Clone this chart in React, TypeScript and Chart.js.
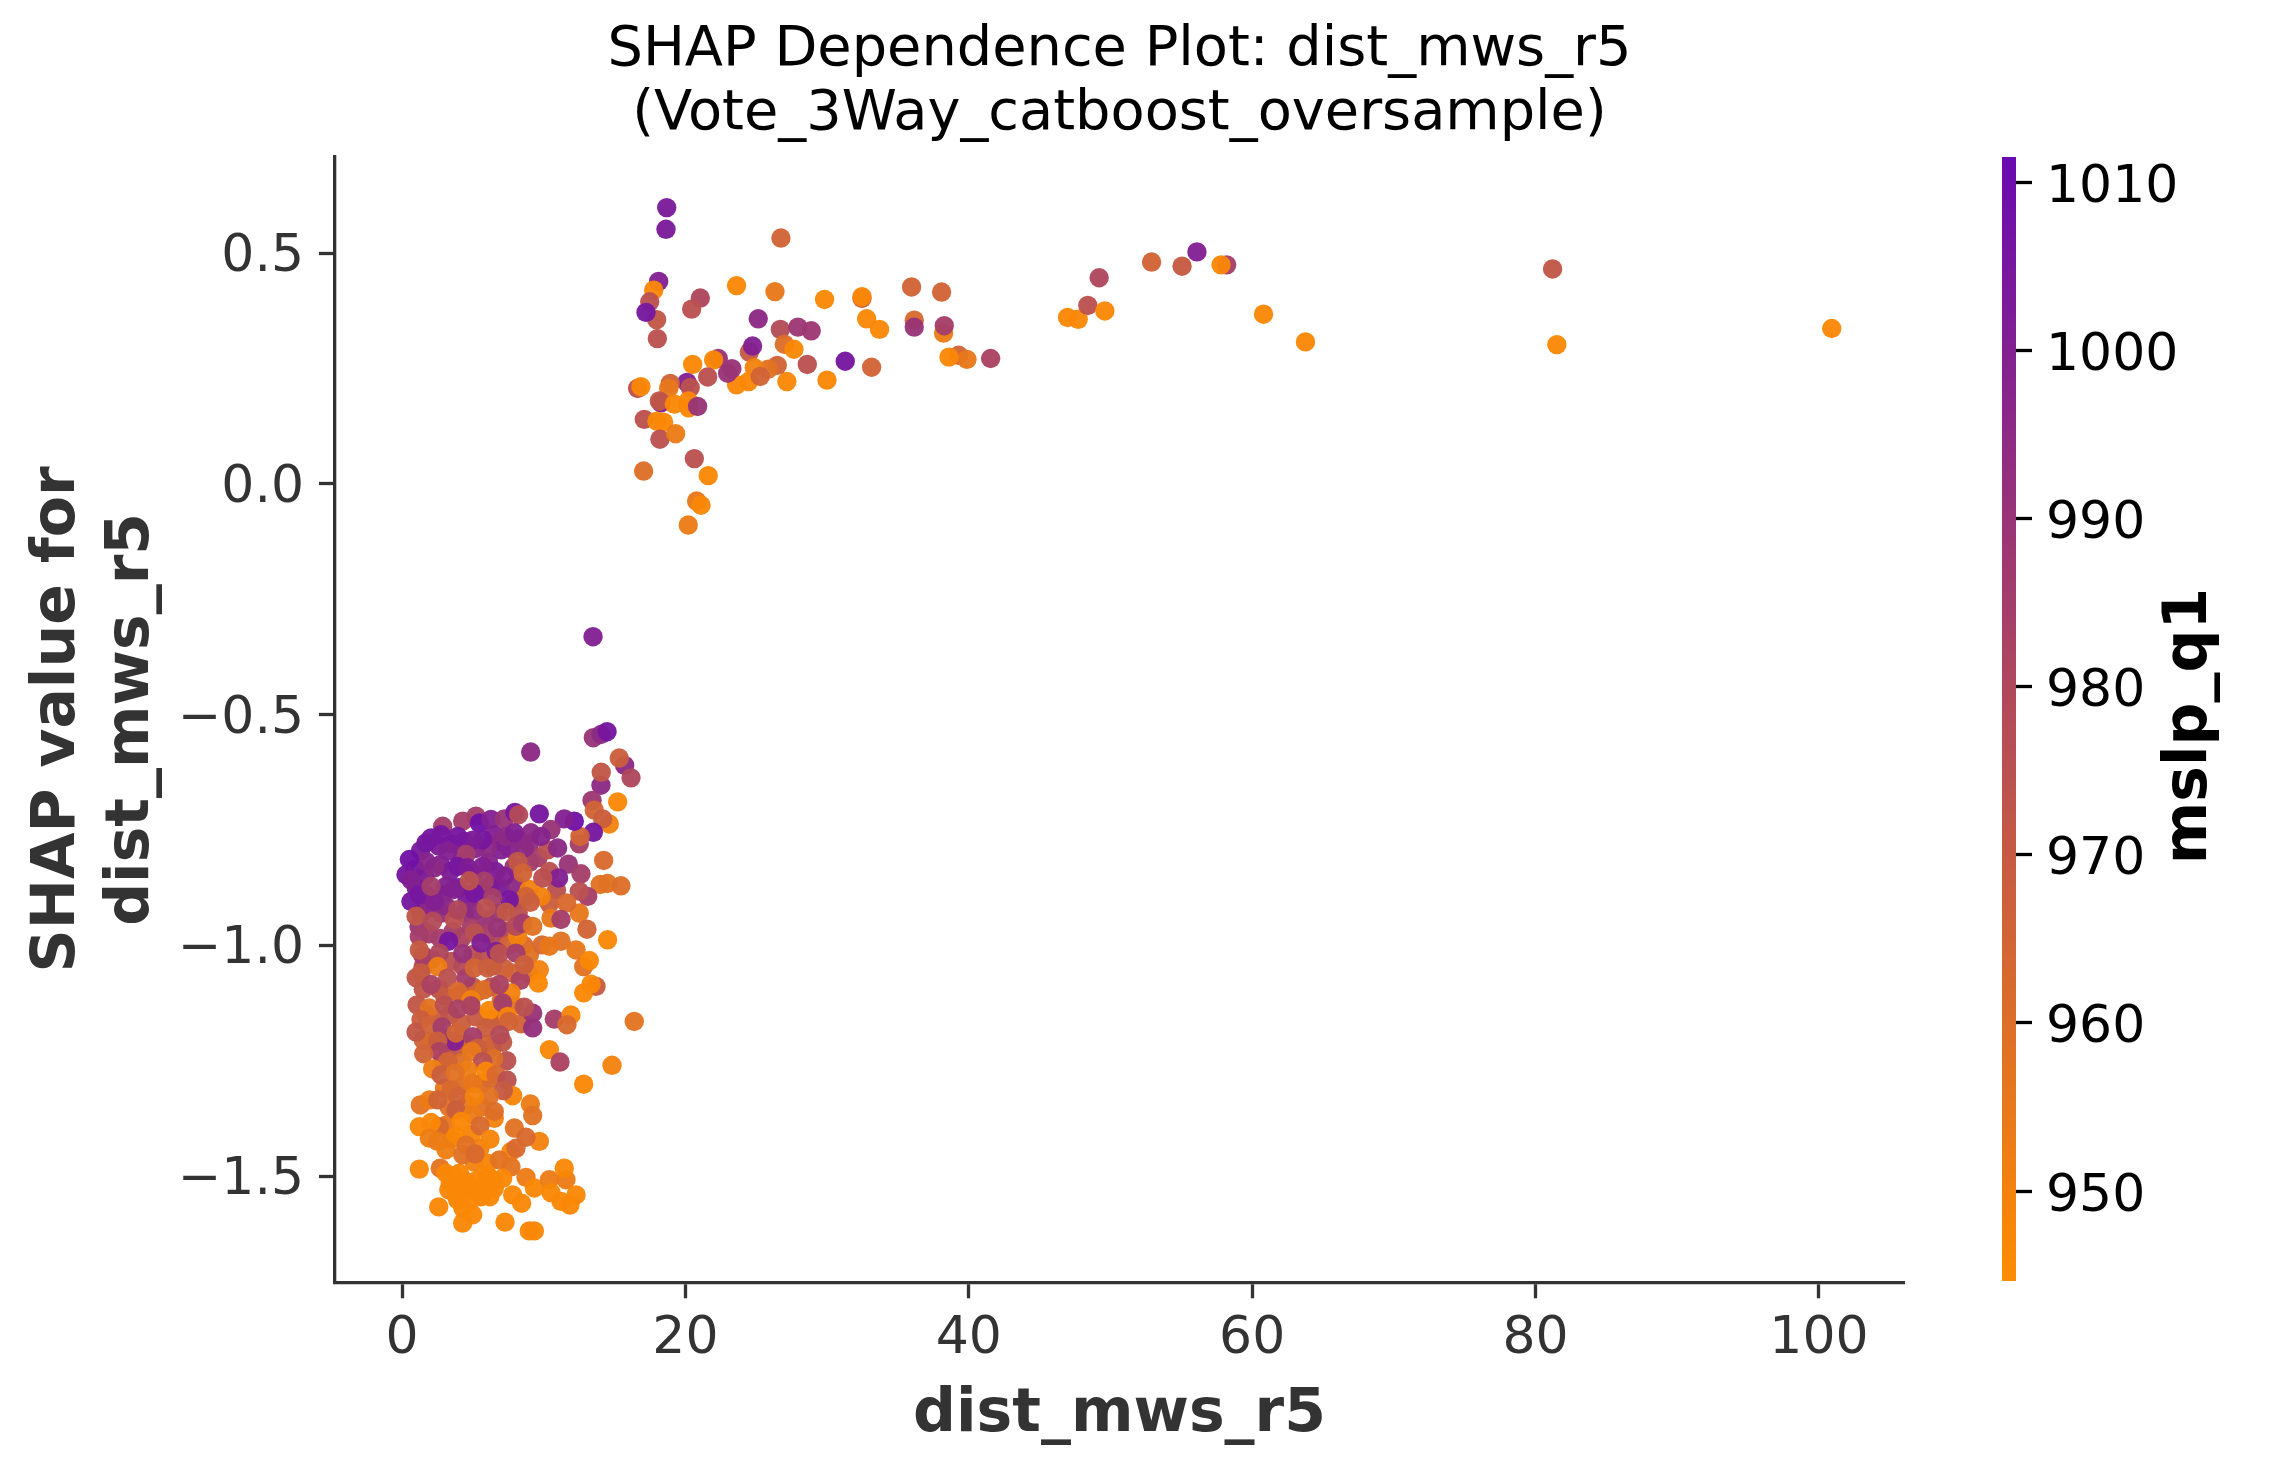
import React, { useEffect, useRef } from "react";
import { Chart, registerables } from "chart.js";

Chart.register(...registerables);

// Each row: [dist_mws_r5, SHAP value, mslp_q1].
const denseBackground: number[][] = [
  [1.3,-0.795,1004],[2.6,-0.785,1002],[3.5,-0.78,1003],[4.4,-0.775,1000],[5.2,-0.79,998],[6.5,-0.76,1000],[7.0,-0.775,996],[7.6,-0.79,1000],[8.2,-0.77,996],[9.0,-0.78,992],
  [0.9,-0.835,1005],[1.6,-0.85,1003],[2.7,-0.825,1000],[3.4,-0.84,1002],[4.2,-0.815,998],[5.0,-0.845,1003],[6.1,-0.82,998],[6.6,-0.84,1002],[7.9,-0.83,990],[9.0,-0.82,985],[9.6,-0.81,985],
  [1.0,-0.875,1003],[1.7,-0.89,1002],[2.9,-0.89,1000],[4.0,-0.875,1004],[4.6,-0.9,1003],[5.5,-0.88,1003],[6.2,-0.87,996],[6.9,-0.875,1003],[8.0,-0.87,995],[10.4,-0.84,975],[10.9,-0.88,975],[10.4,-0.91,968],
  [1.3,-0.93,998],[1.9,-0.92,996],[2.8,-0.93,992],[3.1,-0.915,995],[4.4,-0.93,990],[5.1,-0.925,995],[5.9,-0.945,990],[6.8,-0.93,988],[7.9,-0.905,985],[8.2,-0.93,975],
  [1.2,-0.96,990],[1.9,-0.975,985],[2.7,-0.985,985],[3.6,-0.97,985],[4.2,-0.985,982],[6.0,-0.975,985],[6.7,-0.99,980],[7.4,-0.97,978],[7.5,-1.0,965],[8.6,-1.0,962],[9.0,-1.02,958],
  [1.5,-1.045,978],[2.1,-1.03,975],[3.5,-1.035,975],[4.3,-1.045,978],[5.0,-1.02,975],[5.7,-1.03,975],[6.4,-1.045,972],[7.2,-1.05,968],[8.9,-1.06,960],[1.0,-1.07,972],
  [1.5,-1.095,972],[2.6,-1.095,975],[3.0,-1.11,970],[4.2,-1.105,970],[5.0,-1.09,970],[5.4,-1.1,965],[6.3,-1.09,975],[7.0,-1.12,960],[7.8,-1.06,965],[7.9,-1.13,958],[8.4,-1.17,965],
  [1.7,-1.15,965],[2.6,-1.16,970],[3.4,-1.15,972],[4.2,-1.17,968],[5.2,-1.155,970],[6.2,-1.16,965],[6.9,-1.16,968],[2.9,-1.2,978],
  [1.5,-1.205,965],[2.1,-1.21,962],[3.2,-1.225,968],[3.9,-1.22,972],[4.6,-1.215,965],[5.9,-1.215,965],[6.4,-1.22,965],[7.1,-1.21,972],[2.9,-1.25,960],[4.2,-1.255,960],
  [3.0,-1.31,955],[4.3,-1.305,960],[5.6,-1.3,960],[6.2,-1.29,962],[3.3,-1.35,958],[4.6,-1.345,955],[5.6,-1.35,958],[3.1,-1.39,955],[3.5,-1.42,952],[4.9,-1.41,948],[5.5,-1.44,950],
  [3.4,-1.515,947],[4.0,-1.53,947],[4.6,-1.53,947],[5.2,-1.53,947],[5.9,-1.52,947],[6.5,-1.51,947],[5.1,-1.47,950],[3.3,-1.53,947],[6.2,-1.545,947],[4.3,-1.57,947],[3.7,-1.5,947],
];

const upperBranch: number[][] = [
  [18.68,0.599,1003],[18.63,0.552,1003],[26.74,0.533,965],[18.11,0.439,1000],[17.76,0.42,947],[17.48,0.395,975],[17.97,0.356,972],[18.02,0.315,975],[17.22,0.372,1005],
  [21.05,0.403,980],[20.44,0.379,975],[23.61,0.43,947],[26.32,0.417,955],[29.82,0.4,947],[32.46,0.402,965],[32.46,0.406,947],[35.96,0.427,965],[38.08,0.416,965],
  [32.79,0.358,947],[33.7,0.335,947],[36.15,0.355,962],[36.15,0.34,990],[38.22,0.327,953],[38.27,0.343,985],[25.14,0.358,995],[26.7,0.335,978],[27.94,0.34,988],[28.88,0.332,988],
  [26.98,0.303,960],[27.66,0.292,947],[24.51,0.286,970],[24.74,0.299,1000],[31.28,0.266,1005],[33.14,0.253,965],[28.6,0.259,975],[39.28,0.279,965],[39.87,0.27,955],[38.6,0.275,947],[41.54,0.272,982],
  [46.97,0.361,947],[47.72,0.357,947],[29.99,0.225,947],[27.16,0.222,947],[26.48,0.257,965],[25.85,0.249,958],[24.86,0.252,950],[24.46,0.222,947],[23.61,0.215,947],[25.28,0.233,965],
  [22.98,0.24,990],[23.28,0.25,990],[22.32,0.272,990],[21.99,0.269,947],[20.51,0.259,947],[21.57,0.232,975],[20.11,0.22,1000],[20.34,0.209,975],[18.93,0.218,965],[18.82,0.207,955],
  [16.63,0.207,975],[16.86,0.211,947],[18.27,0.176,1000],[18.16,0.18,972],[19.22,0.173,947],[20.2,0.18,947],[20.23,0.165,947],[20.86,0.168,990],[17.1,0.14,975],[17.99,0.136,947],[18.46,0.134,947],
  [18.2,0.097,975],[19.31,0.109,953],[20.63,0.055,975],[17.05,0.028,960],[21.61,0.018,947],[20.79,-0.037,955],[21.1,-0.046,947],[20.2,-0.089,953],
];

const farRightPoints: number[][] = [
  [52.9,0.481,965],[55.05,0.472,970],[56.1,0.503,1000],[58.2,0.475,985],[57.8,0.475,947],[48.4,0.387,975],[49.2,0.447,980],[49.6,0.375,947],
  [60.8,0.368,947],[63.76,0.308,947],[81.2,0.466,972],[81.5,0.302,947],[100.9,0.337,947],
];

const risingEdge: number[][] = [
  [13.48,-0.331,1000],[9.08,-0.581,995],[13.5,-0.55,990],[14.04,-0.543,995],[14.47,-0.537,1005],[15.71,-0.61,995],[15.33,-0.594,968],[16.16,-0.637,980],[14.04,-0.653,995],[14.06,-0.625,972],
  [15.22,-0.689,947],[13.41,-0.686,988],[14.63,-0.737,950],[13.57,-0.707,965],[14.16,-0.726,968],[13.5,-0.755,1005],[12.51,-0.78,985],[12.56,-0.764,965],[14.23,-0.816,962],[11.74,-0.824,990],
  [12.63,-0.845,985],[11.05,-0.854,1000],[13.99,-0.868,958],[14.51,-0.866,958],[15.45,-0.871,960],[13.1,-0.894,985],[12.51,-0.883,975],[12.51,-0.93,955],[10.51,-0.941,955],[11.62,-0.908,962],
  [11.22,-0.944,985],[13.05,-0.965,965],[14.51,-0.988,947],[11.22,-0.991,958],[9.88,-0.999,962],[10.4,-1.002,955],[12.28,-1.01,955],[12.82,-1.046,958],[13.22,-1.033,947],[13.69,-1.089,970],
  [13.34,-1.084,947],[12.82,-1.103,947],[9.69,-1.053,950],[9.62,-1.082,947],[8.35,-1.076,982],[7.69,-1.103,950],
];

const purpleMass: number[][] = [
  [8.16,-0.981,950],[8.98,-0.879,950],[9.81,-0.894,950],[2.87,-0.742,985],[4.28,-0.731,985],[5.22,-0.72,985],[5.46,-0.735,1008],[6.28,-0.727,1000],[7.22,-0.726,990],[7.97,-0.712,1005],[8.23,-0.717,978],
  [9.69,-0.715,1005],[12.16,-0.731,1008],[11.45,-0.726,1000],[10.51,-0.749,990],[9.1,-0.756,995],[10.28,-0.793,975],[10.98,-0.789,995],[9.81,-0.764,998],[8.63,-0.789,995],[8.16,-0.818,972],
  [8.51,-0.843,965],[9.93,-0.854,975],[8.75,-0.894,965],[9.05,-0.907,968],[6.99,-0.793,1000],[6.04,-0.789,995],[7.34,-0.764,995],[7.93,-0.756,1000],[5.69,-0.771,1005],[4.99,-0.772,1002],
  [3.93,-0.764,1005],[2.75,-0.76,1005],[2.05,-0.767,1005],[1.69,-0.778,1005],[4.52,-0.803,985],[3.22,-0.796,1000],[2.28,-0.832,995],[1.69,-0.818,998],[0.52,-0.814,1008],[0.28,-0.847,1005],
  [0.63,-0.858,1000],[3.93,-0.829,1005],[4.63,-0.832,1002],[5.69,-0.829,1000],[7.22,-0.85,1000],[7.57,-0.901,1005],[6.4,-0.897,985],[5.81,-0.861,985],[3.1,-0.872,1000],[1.22,-0.89,1005],
  [0.63,-0.905,1005],[2.28,-0.905,1000],[3.69,-0.879,1000],[5.1,-0.887,1005],[4.75,-0.86,975],[2.05,-0.872,985],
  [0.99,-0.937,972],[2.16,-0.948,978],[3.69,-0.944,975],[3.93,-0.923,980],[5.93,-0.919,975],[7.34,-0.928,972],[4.87,-0.962,985],[5.1,-0.973,975],[6.75,-0.962,990],[8.04,-0.959,978],
  [8.51,-0.952,985],[9.22,-0.959,958],[1.22,-0.981,985],[5.57,-0.995,1000],[6.63,-1.013,1000],[3.29,-0.991,1005],[4.28,-1.018,990],[1.46,-1.022,985],[2.63,-1.017,980],[1.22,-1.01,970],
  [6.87,-1.018,975],[8.04,-1.017,985],[8.63,-1.042,968],[2.52,-1.046,953],[3.22,-1.071,975],[1.34,-1.06,970],[2.05,-1.085,982],[4.52,-1.071,985],[5.1,-1.049,965],[6.04,-1.049,968],
  [3.93,-1.1,962],[5.81,-1.096,960],[6.87,-1.085,982],[4.87,-1.118,950],
];

const lowerMass: number[][] = [
  [1.06,-1.129,972],[1.93,-1.136,958],[2.99,-1.129,975],[3.93,-1.138,982],[4.87,-1.131,982],[6.16,-1.141,947],[7.1,-1.125,985],[9.22,-1.147,990],[8.63,-1.134,975],[7.46,-1.154,948],[7.53,-1.165,965],
  [10.75,-1.16,985],[11.92,-1.151,948],[11.64,-1.172,962],[16.39,-1.165,957],[9.22,-1.179,992],[1.34,-1.161,968],[0.99,-1.188,972],[2.05,-1.172,965],[2.82,-1.177,985],[3.69,-1.208,1000],
  [3.81,-1.19,965],[5.93,-1.179,968],[4.99,-1.198,985],[6.91,-1.194,978],[2.52,-1.208,968],[5.34,-1.223,968],[4.92,-1.23,955],[10.4,-1.226,947],[11.15,-1.253,982],[14.82,-1.26,950],
  [12.82,-1.301,947],[2.63,-1.23,982],[1.53,-1.235,965],[7.39,-1.25,975],[6.47,-1.246,960],[5.69,-1.252,975],[3.22,-1.252,965],[2.16,-1.268,952],[2.75,-1.281,968],[4.63,-1.27,952],
  [3.74,-1.277,958],[5.93,-1.273,947],[6.63,-1.281,962],[7.41,-1.292,975],[4.99,-1.299,955],[7.81,-1.326,948],[7.15,-1.315,970],[3.46,-1.313,962],[3.93,-1.328,965],[6.16,-1.328,958],
  [5.1,-1.328,950],[1.29,-1.346,957],[1.93,-1.335,953],[2.52,-1.335,965],[3.81,-1.357,968],[6.51,-1.375,950],[6.51,-1.36,960],[9.06,-1.344,953],[9.22,-1.369,958],[4.99,-1.367,953],
  [2.63,-1.393,962],[1.22,-1.393,947],[2.05,-1.384,947],[4.16,-1.382,947],[5.5,-1.391,962],[7.93,-1.396,958],[9.69,-1.425,950],[8.75,-1.416,962],[7.69,-1.447,948],[8.04,-1.44,962],
  [6.21,-1.42,948],[3.81,-1.414,947],[1.93,-1.418,952],[2.52,-1.425,953],[3.1,-1.443,952],[4.52,-1.433,958],[6.04,-1.472,948],[6.87,-1.465,957],[7.69,-1.48,957],[1.22,-1.485,947],
  [2.7,-1.483,957],[3.1,-1.494,947],[4.05,-1.494,947],[5.34,-1.508,947],[4.52,-1.512,947],[6.04,-1.498,947],[7.1,-1.505,947],[4.28,-1.454,958],[5.15,-1.452,962],[8.75,-1.503,953],[9.34,-1.526,947],
  [10.4,-1.508,953],[11.57,-1.508,953],[11.45,-1.483,947],[10.51,-1.536,947],[12.28,-1.541,947],[11.22,-1.555,947],[11.85,-1.563,947],[3.81,-1.541,947],[3.93,-1.552,947],[6.51,-1.527,947],
  [7.81,-1.541,947],[8.44,-1.559,947],[5.57,-1.545,947],[4.87,-1.552,947],[4.99,-1.584,947],[2.59,-1.567,947],[4.28,-1.602,947],[7.27,-1.6,947],[8.98,-1.619,947],[9.34,-1.619,947],
];

const xTickValues = [0, 20, 40, 60, 80, 100];
const yTickValues = [-1.5, -1.0, -0.5, 0.0, 0.5];
const colorTickValues = [950, 960, 970, 980, 990, 1000, 1010];
const xRange = [-4.73, 106];
const yRange = [-1.7304, 0.7098];
const colorRange = [944.65, 1011.5];
const lowColor = [255, 140, 0];
const highColor = [104, 10, 176];
const titleLines = ["SHAP Dependence Plot: dist_mws_r5", "(Vote_3Way_catboost_oversample)"];
const xLabel = "dist_mws_r5";
const yLabel = ["SHAP value for", "dist_mws_r5"];
const colorLabel = "mslp_q1";

const FONT = "'DejaVu Sans', sans-serif";
const INK = "#333333";

function colorFor(m: number, alpha = 0.96) {
  const t = Math.min(1, Math.max(0, (m - colorRange[0]) / (colorRange[1] - colorRange[0])));
  const c = lowColor.map((l, i) => Math.round(l + (highColor[i] - l) * t));
  return `rgba(${c[0]},${c[1]},${c[2]},${alpha})`;
}

const allPoints = [...denseBackground, ...upperBranch, ...farRightPoints, ...risingEdge, ...purpleMass, ...lowerMass];

// Centres the digits of vertical-axis tick labels on their ticks, as the reference does.
const centerTickDigits = (shift: number) => ({
  id: "centerTickDigits",
  beforeDraw(chart: any) {
    const scale = chart.scales.y;
    if (!scale) return;
    scale.getLabelItems(chart.chartArea).forEach((item: any) => {
      if (!item.nudged) {
        item.options.translation[1] += shift;
        item.nudged = true;
      }
    });
  },
});

const colorAxisTitle = {
  id: "colorAxisTitle",
  afterDraw(chart: any) {
    const { ctx } = chart;
    ctx.save();
    ctx.translate(240, (157 + 1281) / 2 + 7);
    ctx.rotate(-Math.PI / 2);
    ctx.font = `bold 60px ${FONT}`;
    ctx.fillStyle = "#000000";
    ctx.textAlign = "center";
    ctx.textBaseline = "middle";
    ctx.fillText(colorLabel, 0, 0);
    ctx.restore();
  },
};

export default function App() {
  const mainRef = useRef<HTMLCanvasElement>(null);
  const barRef = useRef<HTMLCanvasElement>(null);

  useEffect(() => {
    const main = new Chart(mainRef.current!, {
      type: "scatter",
      data: {
        datasets: [
          {
            data: allPoints.map((p) => ({ x: p[0], y: p[1] })),
            backgroundColor: allPoints.map((p) => colorFor(p[2])),
            borderWidth: 0,
            pointRadius: 9.7,
            pointHoverRadius: 9.7,
          },
        ],
      },
      options: {
        animation: false,
        responsive: false,
        devicePixelRatio: 1,
        layout: { padding: { left: 0, right: 371, top: 0, bottom: 0 } },
        plugins: {
          legend: { display: false },
          tooltip: { enabled: false },
          title: {
            display: true,
            text: titleLines,
            color: "#000000",
            fullSize: false,
            font: { family: FONT, size: 55.8, weight: "normal", lineHeight: 1.147 },
            padding: { top: 19, bottom: 9.5 },
          },
        },
        scales: {
          x: {
            type: "linear",
            min: xRange[0],
            max: xRange[1],
            afterBuildTicks: (s: any) => { s.ticks = xTickValues.map((value) => ({ value })); },
            afterFit: (s: any) => { s.height = 1465 - 1282.3; },
            ticks: { color: INK, font: { family: FONT, size: 52 }, padding: 10, maxRotation: 0, autoSkip: false, callback: (v: any) => String(v) },
            grid: { drawOnChartArea: false, tickLength: 16, tickWidth: 3.3, tickColor: INK },
            border: { display: true, color: INK, width: 3.3 },
            title: { display: true, text: xLabel, color: INK, font: { family: FONT, size: 60, weight: "bold" }, padding: { top: 6, bottom: 14 } },
          },
          y: {
            type: "linear",
            min: yRange[0],
            max: yRange[1],
            afterBuildTicks: (s: any) => { s.ticks = yTickValues.map((value) => ({ value })); },
            afterFit: (s: any) => { s.width = 335; },
            ticks: { color: INK, font: { family: FONT, size: 52 }, padding: 15, autoSkip: false, callback: (v: any) => Number(v).toFixed(1).replace("-", "\u2212") },
            grid: { drawOnChartArea: false, tickLength: 16, tickWidth: 3.3, tickColor: INK },
            border: { display: true, color: INK, width: 3.3 },
            title: { display: true, text: yLabel, color: INK, font: { family: FONT, size: 60, weight: "bold", lineHeight: 1.23 }, padding: { top: 22, bottom: 0 } },
          },
        },
      },
      plugins: [centerTickDigits(4.5)],
    } as any);

    const bar = new Chart(barRef.current!, {
      type: "bar",
      data: {
        labels: [colorLabel],
        datasets: [
          {
            data: [[colorRange[0], colorRange[1]]],
            barPercentage: 1,
            categoryPercentage: 1,
            borderWidth: 0,
            backgroundColor: (c: any) => {
              const area = c.chart.chartArea;
              if (!area) return colorFor(colorRange[0], 1);
              const g = c.chart.ctx.createLinearGradient(0, area.bottom, 0, area.top);
              g.addColorStop(0, colorFor(colorRange[0], 1));
              g.addColorStop(1, colorFor(colorRange[1], 1));
              return g;
            },
          },
        ],
      },
      options: {
        animation: false,
        responsive: false,
        devicePixelRatio: 1,
        layout: { padding: { left: 52, right: 0, top: 157, bottom: 184 } },
        plugins: { legend: { display: false }, tooltip: { enabled: false } },
        scales: {
          x: { display: false },
          y: {
            position: "right",
            min: colorRange[0],
            max: colorRange[1],
            afterBuildTicks: (s: any) => { s.ticks = colorTickValues.map((value) => ({ value })); },
            afterFit: (s: any) => { s.width = 259; },
            ticks: { color: "#000000", font: { family: FONT, size: 52 }, padding: 14, autoSkip: false, callback: (v: any) => String(v) },
            grid: { drawOnChartArea: false, tickLength: 16, tickWidth: 3.3, tickColor: "#000000" },
            border: { display: false },
          },
        },
      },
      plugins: [centerTickDigits(6), colorAxisTitle],
    } as any);

    return () => {
      main.destroy();
      bar.destroy();
    };
  }, []);

  return (
    <div style={{ position: "absolute", left: 0, top: 0, width: 2275, height: 1465, background: "#fff", overflow: "hidden" }}>
      <canvas ref={mainRef} width={2275} height={1465} style={{ position: "absolute", left: 0, top: 0 }} />
      <canvas ref={barRef} width={325} height={1465} style={{ position: "absolute", left: 1950, top: 0 }} />
    </div>
  );
}
